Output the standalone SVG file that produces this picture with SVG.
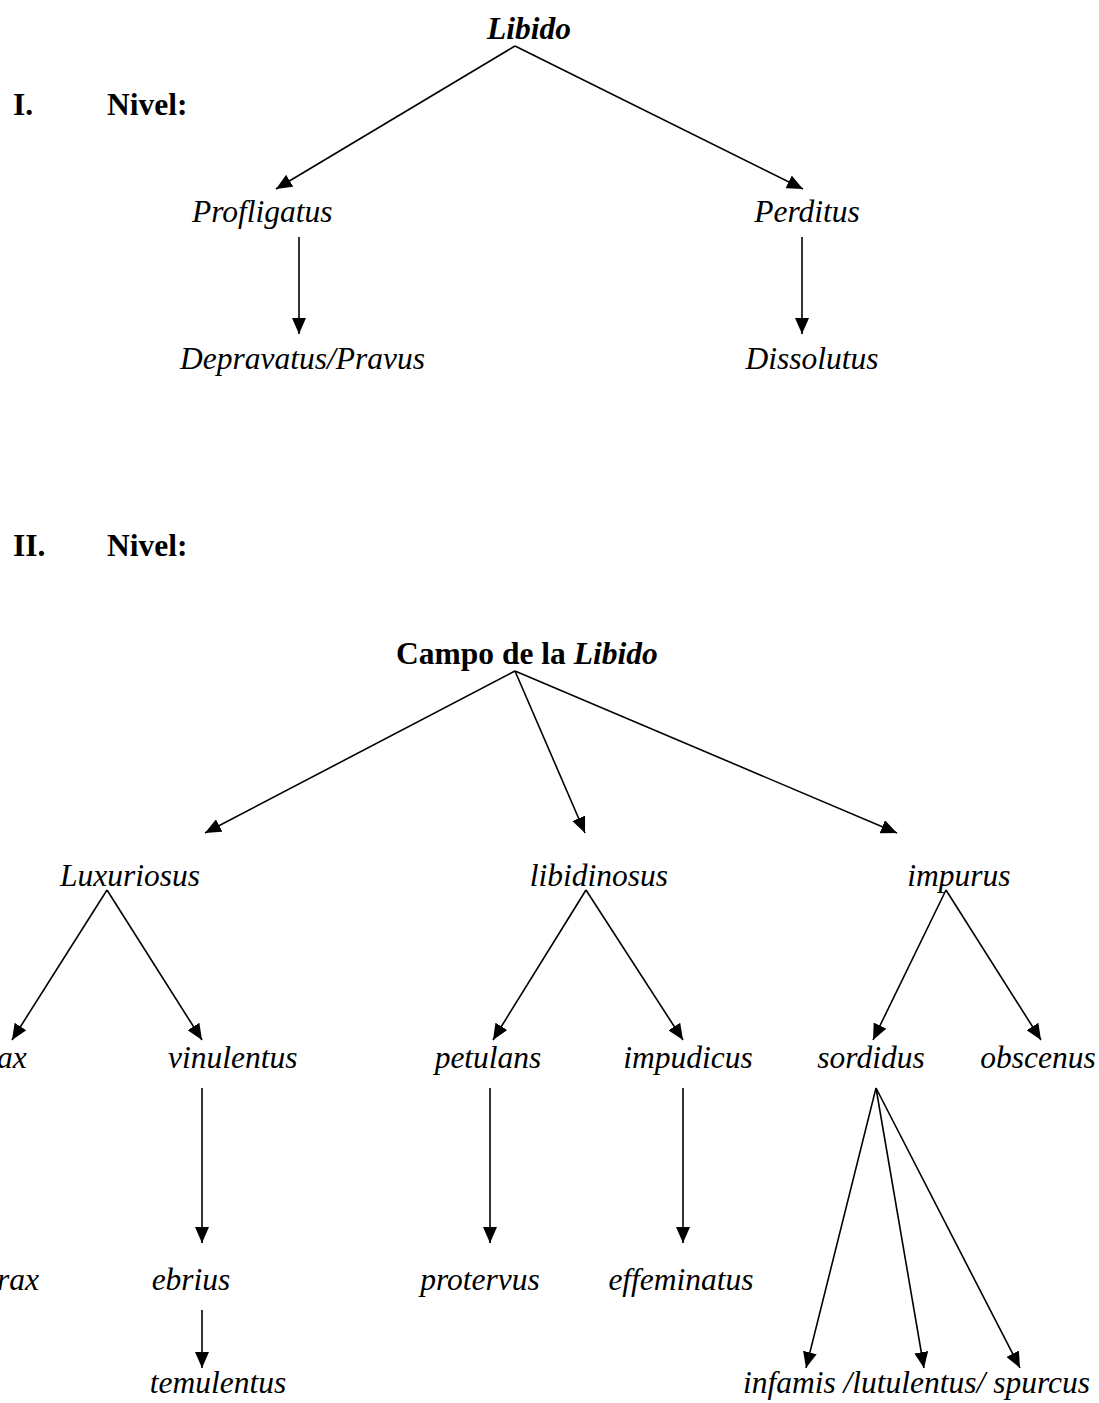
<svg xmlns="http://www.w3.org/2000/svg" width="1099" height="1403" viewBox="0 0 1099 1403">
<defs>
<style>
text{font-family:"Liberation Serif","Times New Roman",serif;font-size:31.5px;fill:#000}
.b{font-weight:bold}
.i{font-style:italic}
.m{text-anchor:middle}
.c line{stroke:#000;stroke-width:1.6;marker-end:url(#ah)}
</style>
<marker id="ah" markerUnits="userSpaceOnUse" markerWidth="17" markerHeight="14" refX="16" refY="7" orient="auto">
<path d="M0,0 L16,7 L0,14 z" fill="#000"/>
</marker>
</defs>
<rect width="1099" height="1403" fill="#fff"/>
<g class="c" id="connectors">
<line x1="515" y1="46" x2="276" y2="189"/>
<line x1="515" y1="46" x2="803" y2="189"/>
<line x1="299" y1="237" x2="299" y2="334"/>
<line x1="802" y1="237" x2="802" y2="334"/>
<line x1="515" y1="671" x2="205" y2="833"/>
<line x1="515" y1="671" x2="585" y2="833"/>
<line x1="515" y1="671" x2="897" y2="833"/>
<line x1="107" y1="890" x2="12" y2="1040"/>
<line x1="107" y1="890" x2="202" y2="1040"/>
<line x1="586" y1="890" x2="493" y2="1040"/>
<line x1="586" y1="890" x2="683" y2="1040"/>
<line x1="946" y1="890" x2="873" y2="1040"/>
<line x1="946" y1="890" x2="1041" y2="1040"/>
<line x1="202" y1="1088" x2="202" y2="1243"/>
<line x1="490" y1="1088" x2="490" y2="1243"/>
<line x1="683" y1="1088" x2="683" y2="1243"/>
<line x1="202" y1="1310" x2="202" y2="1368"/>
<line x1="876" y1="1088" x2="806" y2="1368"/>
<line x1="876" y1="1088" x2="924" y2="1368"/>
<line x1="876" y1="1088" x2="1020" y2="1368"/>
</g>
<g id="lvl1"><text class="b" x="13" y="115">I.</text><text class="b" x="107" y="115">Nivel:</text></g>
<g id="libido"><text class="b i" x="487" y="39">Libido</text></g>
<g id="profligatus"><text class="i" x="192" y="222">Profligatus</text></g>
<g id="perditus"><text class="i m" x="807" y="222">Perditus</text></g>
<g id="depravatus"><text class="i" x="180" y="369">Depravatus/Pravus</text></g>
<g id="dissolutus"><text class="i m" x="812" y="369">Dissolutus</text></g>
<g id="lvl2"><text class="b" x="13" y="556">II.</text><text class="b" x="107" y="556">Nivel:</text></g>
<g id="campo"><text class="b" x="396" y="664">Campo de la <tspan class="i">Libido</tspan></text></g>
<g id="luxuriosus"><text class="i m" x="130" y="886">Luxuriosus</text></g>
<g id="libidinosus"><text class="i m" x="599" y="886">libidinosus</text></g>
<g id="impurus"><text class="i m" x="959" y="886">impurus</text></g>
<g id="ax"><text class="i" x="-3" y="1068">ax</text></g>
<g id="vinulentus"><text class="i" x="168" y="1068">vinulentus</text></g>
<g id="petulans"><text class="i m" x="488" y="1068">petulans</text></g>
<g id="impudicus"><text class="i m" x="688" y="1068">impudicus</text></g>
<g id="sordidus"><text class="i m" x="871" y="1068">sordidus</text></g>
<g id="obscenus"><text class="i m" x="1038" y="1068">obscenus</text></g>
<g id="rax"><text class="i" x="-3" y="1290">rax</text></g>
<g id="ebrius"><text class="i m" x="191" y="1290">ebrius</text></g>
<g id="protervus"><text class="i m" x="480" y="1290">protervus</text></g>
<g id="effeminatus"><text class="i m" x="681" y="1290">effeminatus</text></g>
<g id="temulentus"><text class="i m" x="218" y="1393">temulentus</text></g>
<g id="infamis"><text class="i" x="1090" y="1393" text-anchor="end">infamis /lutulentus/ spurcus</text></g>
</svg>
